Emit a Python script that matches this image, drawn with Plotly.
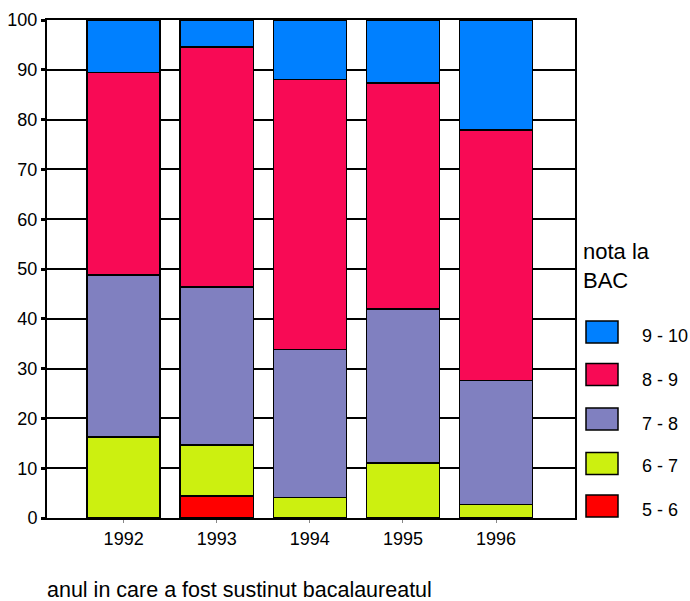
import plotly.graph_objects as go

years = ["1992", "1993", "1994", "1995", "1996"]
series_names = ["5 - 6", "6 - 7", "7 - 8", "8 - 9", "9 - 10"]
v_5_6 = [0.0, 4.4, 0.0, 0.0, 0.0]
v_6_7 = [16.3, 10.3, 4.1, 11.0, 2.7]
v_7_8 = [32.5, 31.7, 29.7, 31.0, 24.9]
v_8_9 = [40.7, 48.2, 54.3, 45.4, 50.3]
v_9_10 = [10.5, 5.4, 11.9, 12.6, 22.1]
series_values = [v_5_6, v_6_7, v_7_8, v_8_9, v_9_10]
colors = ["#FF0000", "#CCF010", "#8080C0", "#F80A55", "#0080FF"]
y_ticks = [0, 10, 20, 30, 40, 50, 60, 70, 80, 90, 100]
legend_title = "nota la<br>BAC"
x_title = "anul in care a fost sustinut bacalaureatul"

FONT = "Liberation Sans, Arial, sans-serif"
W, H = 690, 601
L, R, T, B = 47, 115, 20, 83
plot_h = H - T - B
plot_w = W - L - R

fig = go.Figure()
for name, vals, col in zip(series_names, series_values, colors):
    fig.add_trace(go.Bar(
        x=years, y=vals, name=name, marker=dict(color=col, line=dict(color="black", width=1.5)),
        width=0.786, showlegend=False,
    ))

def py2paper(py):
    return (H - B - py) / plot_h

def px2paper(px):
    return (px - L) / plot_w

shapes = []
annotations = []
# manual legend (top item is 9 - 10)
sw_tops = [321, 363.5, 408, 452.5, 495]
lab_y = [336, 380, 424, 466, 510]
for i, idx in enumerate(range(len(series_names) - 1, -1, -1)):
    shapes.append(dict(type="rect", xref="paper", yref="paper",
                       x0=px2paper(586), x1=px2paper(618),
                       y0=py2paper(sw_tops[i] + 22), y1=py2paper(sw_tops[i]),
                       fillcolor=colors[idx], line=dict(color="black", width=1.5)))
    annotations.append(dict(xref="paper", yref="paper", x=px2paper(640), y=py2paper(lab_y[i]),
                            text=series_names[idx], showarrow=False, xanchor="left", yanchor="middle",
                            font=dict(family=FONT, size=18, color="black")))
annotations.append(dict(xref="paper", yref="paper", x=px2paper(581), y=py2paper(266),
                        text=legend_title, showarrow=False, xanchor="left", yanchor="middle", align="left",
                        font=dict(family=FONT, size=22, color="black")))
annotations.append(dict(xref="paper", yref="paper", x=px2paper(45), y=py2paper(590),
                        text=x_title, showarrow=False, xanchor="left", yanchor="middle",
                        font=dict(family=FONT, size=21.5, color="black")))

fig.update_layout(
    template="none",
    barmode="stack", width=W, height=H,
    margin=dict(l=L, r=R, t=T, b=B, pad=0, autoexpand=False),
    paper_bgcolor="white", plot_bgcolor="white",
    font=dict(family=FONT, size=18, color="black"),
    shapes=shapes, annotations=annotations, showlegend=False,
    xaxis=dict(type="category", range=[-0.823, 4.848], automargin=False, showgrid=False, showline=True,
               linecolor="black", linewidth=2, mirror=True, ticks="outside", ticklen=3, tickcolor="#888",
               tickwidth=1, tickfont=dict(size=18), zeroline=False),
    yaxis=dict(range=[0, 100], tickvals=y_ticks, automargin=False, showgrid=True, gridcolor="black",
               gridwidth=1.5, showline=True, linecolor="black", linewidth=2, mirror=True, ticks="outside",
               ticklen=4, tickwidth=3, tickcolor="black", zeroline=False, tickfont=dict(size=18)),
)
fig.write_html("out.html", config={"displayModeBar": False},
               post_script="document.body.style.margin='0';document.body.style.overflow='hidden';")
